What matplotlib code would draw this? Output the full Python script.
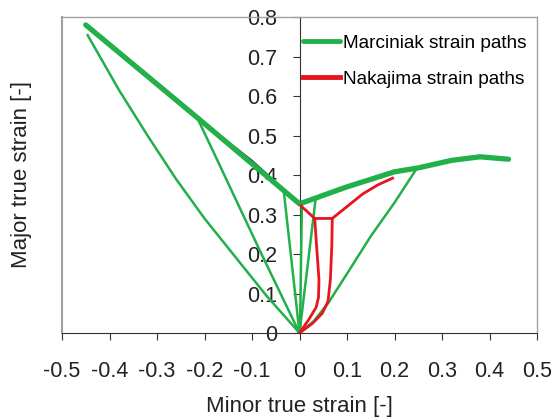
import matplotlib
matplotlib.use("Agg")
import matplotlib.pyplot as plt

plt.rcParams['font.family'] = ['Liberation Sans', 'DejaVu Sans']

# Marciniak forming limit curve (thick green)
flc_m_x = [-0.45, -0.215, 0.0, 0.10, 0.20, 0.25, 0.32, 0.38, 0.44]
flc_m_y = [0.780, 0.545, 0.327, 0.370, 0.408, 0.418, 0.437, 0.446, 0.440]
# underlying black curve
flc_k_x = [-0.45, -0.33, -0.215, -0.10, 0.0, 0.10, 0.20, 0.25, 0.32, 0.38, 0.44]
flc_k_y = [0.780, 0.665, 0.546, 0.437, 0.329, 0.373, 0.412, 0.420, 0.440, 0.448, 0.441]

# Marciniak strain paths (thin green)
mp1_x = [0.0, -0.07, -0.14, -0.20, -0.26, -0.32, -0.38, -0.446]
mp1_y = [0.0, 0.095, 0.20, 0.29, 0.39, 0.50, 0.615, 0.754]
mp2_x = [0.0, -0.084, -0.183, -0.215]
mp2_y = [0.0, 0.21, 0.463, 0.544]
mp3_x = [0.0, -0.033]
mp3_y = [0.0, 0.358]
mp4_x = [0.001, 0.005]
mp4_y = [0.0, 0.327]
mp5_x = [0.0, 0.034]
mp5_y = [0.0, 0.340]
mp6_x = [0.0, 0.03, 0.06, 0.10, 0.15, 0.20, 0.246]
mp6_y = [0.0, 0.03, 0.075, 0.15, 0.245, 0.33, 0.415]

# Nakajima limit curve and strain paths (red)
flc_n_x = [0.003, 0.032, 0.069, 0.10, 0.133, 0.165, 0.196]
flc_n_y = [0.322, 0.290, 0.290, 0.320, 0.352, 0.375, 0.392]
np1_x = [0.0, 0.02, 0.035, 0.040, 0.041, 0.036, 0.032]
np1_y = [0.0, 0.035, 0.065, 0.090, 0.135, 0.220, 0.290]
np2_x = [0.0, 0.028, 0.048, 0.060, 0.065, 0.068, 0.069]
np2_y = [0.0, 0.025, 0.050, 0.080, 0.135, 0.220, 0.290]

xticks = [-0.5, -0.4, -0.3, -0.2, -0.1, 0, 0.1, 0.2, 0.3, 0.4, 0.5]
xticklabels = ['-0.5', '-0.4', '-0.3', '-0.2', '-0.1', '0', '0.1', '0.2', '0.3', '0.4', '0.5']
yticks = [0, 0.1, 0.2, 0.3, 0.4, 0.5, 0.6, 0.7, 0.8]
yticklabels = ['0', '0.1', '0.2', '0.3', '0.4', '0.5', '0.6', '0.7', '0.8']

GREEN = '#22b04a'
RED = '#e8141e'

fig = plt.figure(figsize=(5.54, 4.19), dpi=100)
ax = fig.add_axes([62/554, 1-333/419, 475/554, 316/419])

ax.plot(flc_k_x, flc_k_y, color='#202020', lw=1.0, zorder=2)
for xs, ys in [(mp1_x, mp1_y), (mp2_x, mp2_y), (mp3_x, mp3_y), (mp4_x, mp4_y), (mp5_x, mp5_y), (mp6_x, mp6_y)]:
    ax.plot(xs, ys, color=GREEN, lw=1.8, zorder=3)
ax.plot(flc_m_x, flc_m_y, color=GREEN, lw=3.8, zorder=4, solid_capstyle='round',
        label='Marciniak strain paths')
ax.plot(flc_n_x, flc_n_y, color=RED, lw=2.0, zorder=5, label='Nakajima strain paths')
ax.plot(np1_x, np1_y, color=RED, lw=2.0, zorder=5)
ax.plot(np2_x, np2_y, color=RED, lw=2.0, zorder=5)

ax.set_xlim(-0.5, 0.5)
ax.set_ylim(0, 0.8)

ax.spines['left'].set_position(('data', 0))
ax.spines['left'].set_color('#333333')
ax.spines['bottom'].set_color('#333333')
for s in ['top', 'right']:
    ax.spines[s].set_color('#a0a0a0')
    ax.spines[s].set_linewidth(1.0)
ax.axvline(-0.5, color='#a0a0a0', lw=1.5, clip_on=False)

ax.set_xticks(xticks)
ax.set_xticklabels(xticklabels)
ax.set_yticks(yticks)
ax.set_yticklabels(yticklabels)
ax.tick_params(axis='both', labelsize=15.5, direction='out', length=5, color='#333333',
               labelcolor='#222222')
ax.tick_params(axis='x', pad=15)
ax.tick_params(axis='y', pad=11)

ax.set_xlabel('Minor true strain [-]', fontsize=16, color='#222222')
ax.xaxis.set_label_coords(0.5, -0.2)
ax.set_ylabel('Major true strain [-]', fontsize=16, color='#222222')
ax.yaxis.set_label_coords(-0.063, 0.5)

leg = ax.legend(loc='upper left', bbox_to_anchor=(0.507, 0.944), frameon=False,
                fontsize=13.7, handlelength=1.95, handletextpad=0.16, labelspacing=0.98,
                borderaxespad=0, borderpad=0)
for h in leg.get_lines():
    h.set_linewidth(3.5)

fig.savefig('out.png', dpi=100)
